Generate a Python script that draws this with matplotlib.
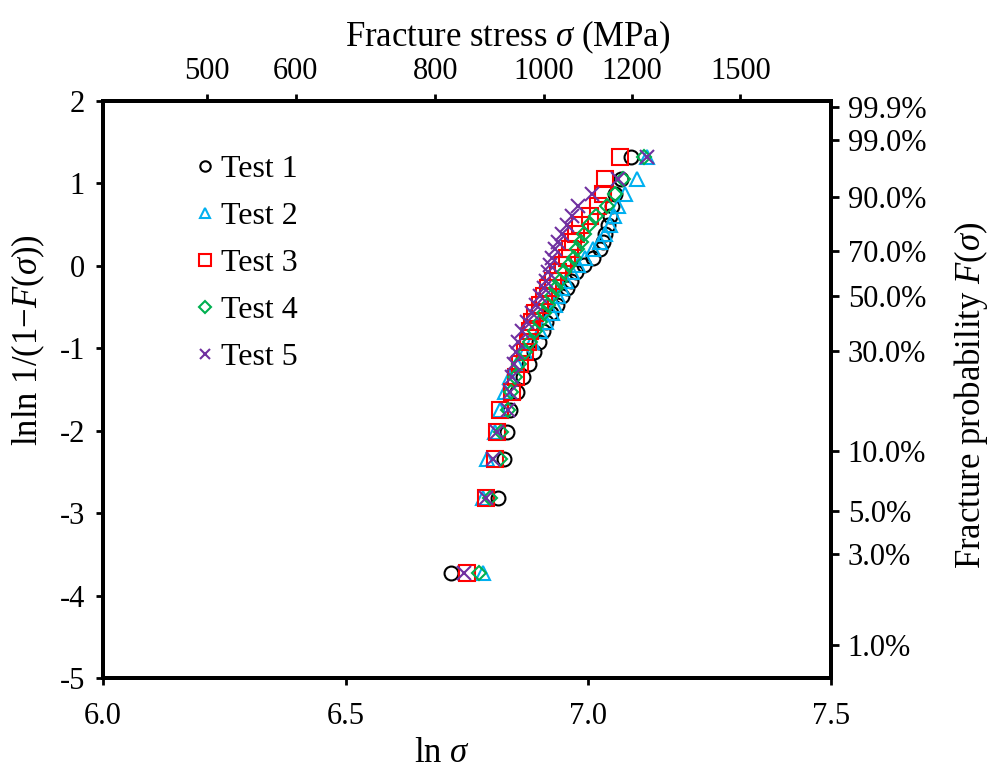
import numpy as np
import matplotlib
matplotlib.use("Agg")
import matplotlib.pyplot as plt

plt.rcParams['font.family'] = ['Liberation Serif', 'DejaVu Serif']
plt.rcParams['mathtext.fontset'] = 'custom'
plt.rcParams['mathtext.rm'] = 'Liberation Serif'
plt.rcParams['mathtext.it'] = 'Liberation Serif:italic'

# y levels (lnln 1/(1-F)) for ranks 1..29
lnln_F = [-3.73, -2.82, -2.34, -2.01, -1.75, -1.53, -1.35, -1.19, -1.05, -0.92,
          -0.79, -0.68, -0.57, -0.47, -0.37, -0.27, -0.18, -0.08, 0.01, 0.10,
          0.20, 0.29, 0.39, 0.50, 0.61, 0.73, 0.87, 1.05, 1.32]

# ln(sigma) per test
test1 = [6.717, 6.814, 6.826, 6.832, 6.839, 6.853, 6.865, 6.878, 6.888, 6.898,
         6.907, 6.913, 6.923, 6.935, 6.946, 6.956, 6.964, 6.975, 6.991, 7.010,
         7.024, 7.030, 7.034, 7.040, 7.045, 7.049, 7.055, 7.067, 7.088]
test2 = [6.783, 6.783, 6.791, 6.808, 6.818, 6.828, 6.839, 6.853, 6.870, 6.884,
         6.900, 6.913, 6.925, 6.931, 6.937, 6.946, 6.954, 6.966, 6.978, 6.993,
         7.010, 7.024, 7.034, 7.045, 7.053, 7.061, 7.075, 7.100, 7.121]
test3 = [6.750, 6.789, 6.808, 6.812, 6.818, 6.843, 6.851, 6.859, 6.870, 6.876,
         6.880, 6.884, 6.890, 6.900, 6.909, 6.917, 6.927, 6.937, 6.948, 6.956,
         6.962, 6.968, 6.975, 6.983, 7.003, 7.020, 7.030, 7.034, 7.065]
test4 = [6.775, 6.797, 6.818, 6.820, 6.834, 6.841, 6.849, 6.857, 6.870, 6.880,
         6.890, 6.900, 6.909, 6.917, 6.925, 6.933, 6.942, 6.950, 6.960, 6.970,
         6.977, 6.985, 6.991, 7.001, 7.016, 7.038, 7.055, 7.071, 7.114]
test5 = [6.744, 6.789, 6.803, 6.812, 6.834, 6.839, 6.843, 6.847, 6.851, 6.855,
         6.863, 6.874, 6.884, 6.892, 6.900, 6.909, 6.913, 6.917, 6.921, 6.925,
         6.931, 6.937, 6.946, 6.956, 6.966, 6.978, 7.007, 7.061, 7.121]

stress_ticks = [500, 600, 800, 1000, 1200, 1500]
prob_ticks = [1.0, 3.0, 5.0, 10.0, 30.0, 50.0, 70.0, 90.0, 99.0, 99.9]

series = [
    (test1, 'Test 1', 'o', 'black', 10),
    (test2, 'Test 2', '^', '#00b0f0', 10),
    (test3, 'Test 3', 's', '#ff0000', 11),
    (test4, 'Test 4', 'D', '#00b050', 7.5),
    (test5, 'Test 5', 'x', '#7030a0', 10.5),
]

fig = plt.figure(figsize=(9.93, 7.74), dpi=100)
ax = fig.add_axes([0.1037, 0.124, 0.7332, 0.7455])

for xs, lab, mk, col, ms in series:
    ax.plot(xs, lnln_F, linestyle='none', marker=mk, markersize=ms,
            markerfacecolor='none', markeredgecolor=col, markeredgewidth=1.5,
            label=lab)

ax.set_xlim(6.0, 7.5)
ax.set_ylim(-5, 2)
ax.set_xticks([6.0, 6.5, 7.0, 7.5])
ax.set_xticklabels(['6.0', '6.5', '7.0', '7.5'])
ax.set_yticks(range(-5, 3))
ax.set_yticklabels([str(v) for v in range(-5, 3)])
ax.tick_params(labelsize=22, width=2, length=5, direction='out')
ax.tick_params(axis='x', pad=12)
ax.tick_params(axis='y', pad=8)
for sp in ax.spines.values():
    sp.set_linewidth(2.8)

ax.set_xlabel(r'ln $\it{\sigma}$', fontsize=25)
ax.xaxis.set_label_coords(0.466, -0.103)
ax.set_ylabel(r'lnln 1/(1$-$$\it{F}$($\it{\sigma}$))', fontsize=25)
ax.yaxis.set_label_coords(-0.077, 0.585)

# top axis: fracture stress
top = ax.twiny()
top.set_xlim(ax.get_xlim())
top.set_xticks(np.log(stress_ticks))
top.set_xticklabels([str(s) for s in stress_ticks])
top.tick_params(labelsize=22, width=2, length=5, direction='out', pad=6)
top.set_xlabel(r'Fracture stress $\it{\sigma}$ (MPa)', fontsize=25)
top.xaxis.set_label_coords(0.556, 1.095)

# right axis: fracture probability
right = ax.twinx()
right.set_ylim(ax.get_ylim())
p = np.array(prob_ticks) / 100.0
right.set_yticks(np.log(-np.log(1 - p)))
right.set_yticklabels(['%.1f%%' % v for v in prob_ticks])
right.tick_params(labelsize=22, width=2, length=6, direction='out', pad=6)
right.set_ylabel(r'Fracture probability $\it{F}$($\it{\sigma}$)', fontsize=25)
right.yaxis.set_label_coords(1.166, 0.49)
for a in (top, right):
    for sp in a.spines.values():
        sp.set_linewidth(2.8)

leg = ax.legend(loc='upper left', bbox_to_anchor=(0.09, 0.945), frameon=False,
                fontsize=23, handletextpad=0.05, labelspacing=0.55,
                handlelength=0.9, markerscale=0.75, borderpad=0.2)

fig.savefig('out.png', dpi=100)
